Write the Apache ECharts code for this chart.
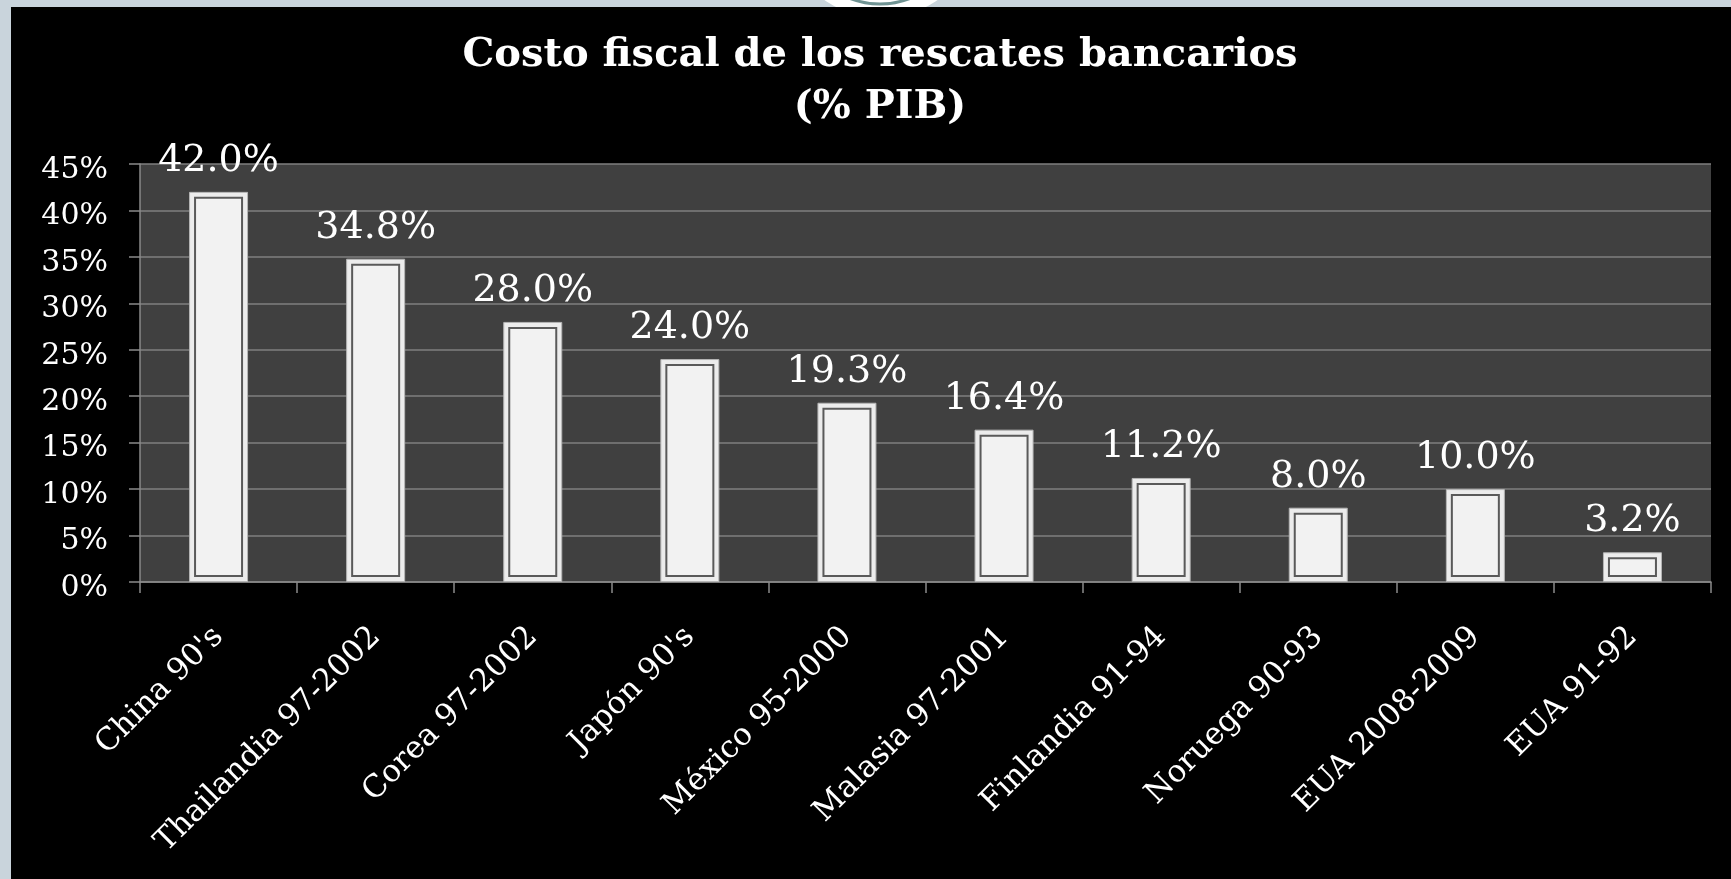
<!DOCTYPE html>
<html>
<head>
<meta charset="utf-8">
<title>Costo fiscal de los rescates bancarios</title>
<script src="https://cdn.jsdelivr.net/npm/echarts@6/dist/echarts.min.js"></script>
<style>
  html, body { margin: 0; padding: 0; background: #c9d4dc; }
  #chart { width: 1731px; height: 879px; }
</style>
</head>
<body>
<div id="chart"></div>
<script>
// Bank bailout episodes and their fiscal cost (% of GDP)
const categories = [
  "China 90's", 'Thailandia 97-2002', 'Corea 97-2002', "Japón 90's", 'México 95-2000',
  'Malasia 97-2001', 'Finlandia 91-94', 'Noruega 90-93', 'EUA 2008-2009', 'EUA 91-92'
];
const costValues = [42.0, 34.8, 28.0, 24.0, 19.3, 16.4, 11.2, 8.0, 10.0, 3.2];
const yTicks = { min: 0, max: 45, interval: 5 };

const SERIF = '"DejaVu Serif", "Liberation Serif", serif';
const BAR_W = 59;
const INSET = 6;

const chart = echarts.init(document.getElementById('chart'), null, { renderer: 'canvas' });

chart.setOption({
  backgroundColor: 'transparent',
  animation: false,
  graphic: [
    // logo peeking above the slide
    { type: 'circle', z: -12, shape: { cx: 881, cy: -80, r: 98 }, style: { fill: '#ffffff' } },
    { type: 'circle', z: -11, shape: { cx: 880, cy: -80, r: 84 }, style: { fill: 'none', stroke: '#6f9393', lineWidth: 3 } },
    // slide panel
    { type: 'rect', z: -10, shape: { x: 11, y: 7, width: 1720, height: 872 }, style: { fill: '#000000' } }
  ],
  title: {
    text: 'Costo fiscal de los rescates bancarios\n(% PIB)',
    left: 875,
    textAlign: 'center',
    top: 25,
    textStyle: {
      color: '#ffffff',
      fontFamily: SERIF,
      fontWeight: 'bold',
      fontSize: 40,
      lineHeight: 52
    }
  },
  grid: {
    left: 140,
    right: 20,
    top: 164,
    bottom: 297,
    show: true,
    backgroundColor: '#404040',
    borderWidth: 0
  },
  xAxis: {
    type: 'category',
    data: categories,
    axisLine: { show: true, lineStyle: { color: '#8a8a8a', width: 1.5 } },
    axisTick: { show: true, length: 11, lineStyle: { color: '#8a8a8a', width: 1.5 } },
    axisLabel: {
      color: '#ffffff',
      fontFamily: SERIF,
      fontSize: 31,
      rotate: 45,
      margin: 50,
      interval: 0
    }
  },
  yAxis: {
    type: 'value',
    min: yTicks.min,
    max: yTicks.max,
    interval: yTicks.interval,
    axisLine: { show: true, lineStyle: { color: '#8a8a8a', width: 1.5 } },
    axisTick: { show: true, length: 11, lineStyle: { color: '#8a8a8a', width: 1.5 } },
    splitLine: { show: true, lineStyle: { color: '#7f7f7f', width: 1.5 } },
    axisLabel: {
      color: '#ffffff',
      margin: 32,
      formatter: '{v|{value}%}',
      rich: {
        v: {
          color: '#ffffff',
          fontFamily: SERIF,
          fontSize: 30,
          padding: [12, 0, 0, 0]
        }
      }
    }
  },
  series: [
    {
      name: 'Costo fiscal',
      type: 'bar',
      data: costValues,
      barWidth: BAR_W,
      itemStyle: { color: '#ececec', borderColor: '#b5b5b5', borderWidth: 1 },
      label: {
        show: true,
        position: 'top',
        distance: 12,
        color: '#ffffff',
        fontFamily: SERIF,
        fontSize: 38,
        formatter: (p) => p.value.toFixed(1) + '%'
      },
      z: 2
    },
    {
      // inner panel of each bar: fill with a dark outline, inset from the bar edge
      name: 'inner',
      type: 'custom',
      data: categories.map((c, i) => [i, costValues[i]]),
      renderItem: (params, api) => {
        const top = api.coord([api.value(0), api.value(1)]);
        const base = api.coord([api.value(0), 0]);
        const w = BAR_W - 2 * INSET;
        return {
          type: 'rect',
          shape: {
            x: top[0] - w / 2,
            y: top[1] + INSET,
            width: w,
            height: Math.max(0, base[1] - top[1] - 2 * INSET)
          },
          style: { fill: '#f2f2f2', stroke: '#5a5a5a', lineWidth: 2 }
        };
      },
      silent: true,
      z: 3
    }
  ]
});
</script>
</body>
</html>
